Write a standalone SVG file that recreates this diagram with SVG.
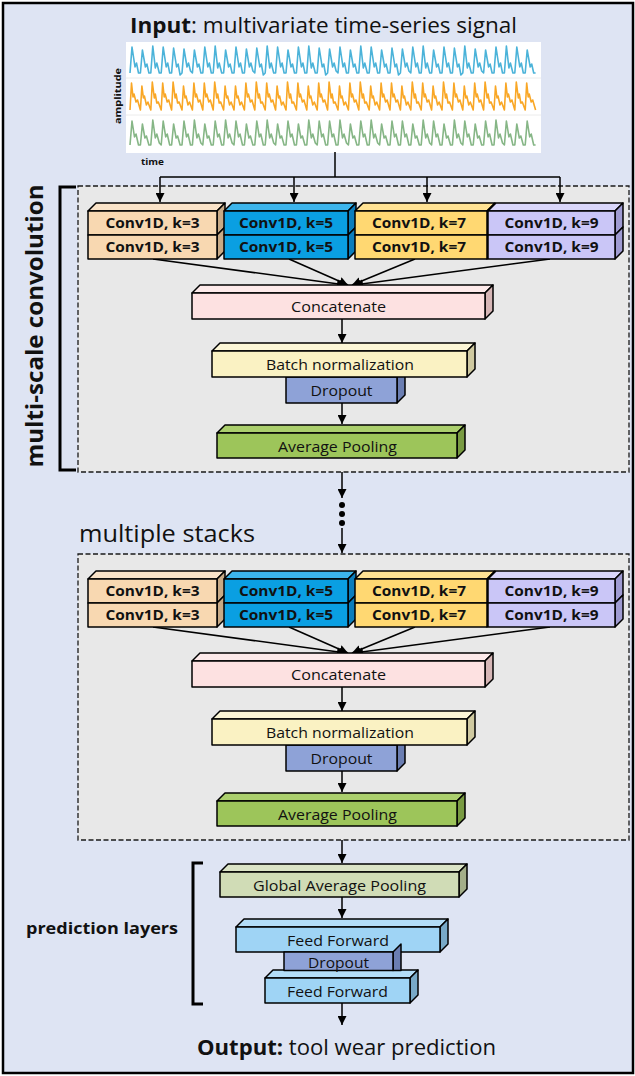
<svg xmlns="http://www.w3.org/2000/svg" width="635" height="1076" viewBox="0 0 635 1076">
  <defs>
    <marker id="arrow" viewBox="0 0 10 10" refX="10" refY="5" markerWidth="9" markerHeight="9" markerUnits="userSpaceOnUse" orient="auto">
      <path d="M0,0 L10,5 L0,10 z" fill="#000"/>
    </marker>
    <style>
      .edge { stroke:#000; stroke-width:1.5; fill:none; marker-end:url(#arrow); }
      .line { stroke:#000; stroke-width:1.5; fill:none; }
      .bracket { stroke:#000; stroke-width:3; fill:none; }
      .dash { fill:#e8e8e8; stroke:#1a1a1a; stroke-width:1.3; stroke-dasharray:5 2.5; }
      .box { stroke:#000; stroke-width:1.5; stroke-linejoin:round; }
      .t { font-family:"Open Sans","Liberation Sans",sans-serif; fill:#111; text-anchor:middle; }
      .cv { font-size:14px; font-weight:bold; }
      .lb { font-size:14px; }
      .wave { fill:none; stroke-width:1.6; stroke-linejoin:round; }
      .k3f { fill:#f8d8b1; } .k3t { fill:#fae3c8; } .k3s { fill:#c8aa86; }
      .k5f { fill:#0a9fe2; } .k5t { fill:#3cb5ec; } .k5s { fill:#0a7dbd; }
      .k7f { fill:#ffd872; } .k7t { fill:#ffe293; } .k7s { fill:#d6b256; }
      .k9f { fill:#cac6f7; } .k9t { fill:#d9d6fa; } .k9s { fill:#9f9bd2; }
      .ccf { fill:#fde1e1; } .cct { fill:#fdeaea; } .ccs { fill:#d6b6b6; }
      .bnf { fill:#faf2c3; } .bnt { fill:#fcf6d6; } .bns { fill:#cfc9a0; }
      .dof { fill:#8ea2d7; } .dos { fill:#6b7eb2; }
      .apf { fill:#9dc55a; } .apt { fill:#abcf6d; } .aps { fill:#799b42; }
      .gpf { fill:#d0dcb6; } .gpt { fill:#dbe4c6; } .gps { fill:#a3ae89; }
      .fff { fill:#9fd4f5; } .fft { fill:#b3ddf7; } .ffs { fill:#78a9c7; }
    </style>
  </defs>

  <!-- page background and frame -->
  <rect x="3" y="3" width="630" height="1070" fill="#dee4f3" stroke="#000" stroke-width="2.5"/>

  <!-- input signal -->
  <g id="input">
    <text class="t" x="130" y="33" font-size="21" textLength="387" lengthAdjust="spacingAndGlyphs" style="text-anchor:start"><tspan font-weight="bold">Input</tspan>: multivariate time-series signal</text>
    <rect x="126" y="42" width="415" height="111" fill="#fff"/>
    <line x1="126" y1="78" x2="541" y2="78" stroke="#ececec" stroke-width="1"/>
    <line x1="126" y1="115" x2="541" y2="115" stroke="#ececec" stroke-width="1"/>
    <path class="wave" stroke="#4bb3d9" d="M130,73 l2,-26 l3,20 l1.5,-4 l2,10 l1.9,0 l2,-23 l3,17 l1.5,-3 l2,9 l1.9,0 l2,-27 l2.5,22 l1.5,-5 l2.5,10 l1.9,0 l2,-26 l3,20 l1.5,-4 l2,10 l1.9,0 l2,-25 l3,19 l1.5,-3 l2,11 l1.9,-2 l2,-24 l3,18 l1.5,-4 l2,8 l1.9,2 l2,-23 l3,17 l1.5,-3 l2,9 l1.9,0 l2,-26 l3,20 l1.5,-4 l2,10 l1.9,0 l2,-27 l2.5,22 l1.5,-5 l2.5,10 l1.9,0 l2,-23 l3,17 l1.5,-3 l2,9 l1.9,0 l2,-26 l3,20 l1.5,-4 l2,10 l1.9,0 l2,-24 l3,18 l1.5,-4 l2,8 l1.9,2 l2,-25 l3,19 l1.5,-3 l2,11 l1.9,-2 l2,-27 l2.5,22 l1.5,-5 l2.5,10 l1.9,0 l2,-26 l3,20 l1.5,-4 l2,10 l1.9,0 l2,-23 l3,17 l1.5,-3 l2,9 l1.9,0 l2,-26 l3,20 l1.5,-4 l2,10 l1.9,0 l2,-27 l2.5,22 l1.5,-5 l2.5,10 l1.9,0 l2,-25 l3,19 l1.5,-3 l2,11 l1.9,-2 l2,-24 l3,18 l1.5,-4 l2,8 l1.9,2 l2,-26 l3,20 l1.5,-4 l2,10 l1.9,0 l2,-23 l3,17 l1.5,-3 l2,9 l1.9,0 l2,-27 l2.5,22 l1.5,-5 l2.5,10 l1.9,0 l2,-26 l3,20 l1.5,-4 l2,10 l1.9,0 l2,-23 l3,17 l1.5,-3 l2,9 l1.9,0 l2,-25 l3,19 l1.5,-3 l2,11 l1.9,-2 l2,-24 l3,18 l1.5,-4 l2,8 l1.9,2 l2,-26 l3,20 l1.5,-4 l2,10 l1.9,0 l2,-27 l2.5,22 l1.5,-5 l2.5,10 l1.9,0 l2,-23 l3,17 l1.5,-3 l2,9 l1.9,0 l2,-26 l3,20 l1.5,-4 l2,10 l1.9,0 l2,-25 l3,19 l1.5,-3 l2,11 l1.9,-2 l2,-27 l2.5,22 l1.5,-5 l2.5,10 l1.9,0 l2,-24 l3,18 l1.5,-4 l2,8 l1.9,2 l2,-23 l3,17 l1.5,-3 l2,9 l1.9,0 l2,-26 l3,20 l1.5,-4 l2,10 l1.9,0 l2,-27 l2.5,22 l1.5,-5 l2.5,10 l1.9,0 l2,-26 l3,20 l1.5,-4 l2,10 l1.9,0 l2,-23 l3,17 l1.5,-3 l2,9 l1.9,0"/>
    <path class="wave" stroke="#f9a726" d="M130,110 l1.5,-27 l1.5,14 l1,-3 l2,8 l1.5,-2 l2.9,10 l1.5,-24 l1.5,12 l1,-2 l2,9 l1.5,-3 l2.9,8 l1.5,-28 l2,16 l1,-4 l1.5,9 l1.5,-1 l2.9,8 l1.5,-27 l1.5,14 l1,-3 l2,8 l1.5,-2 l2.9,10 l1.5,-28 l2,16 l1,-4 l1.5,9 l1.5,-1 l2.9,8 l1.5,-24 l1.5,12 l1,-2 l2,9 l1.5,-3 l2.9,8 l1.5,-27 l1.5,14 l1,-3 l2,8 l1.5,-2 l2.9,10 l1.5,-27 l1.5,14 l1,-3 l2,8 l1.5,-2 l2.9,10 l1.5,-28 l2,16 l1,-4 l1.5,9 l1.5,-1 l2.9,8 l1.5,-24 l1.5,12 l1,-2 l2,9 l1.5,-3 l2.9,8 l1.5,-24 l1.5,12 l1,-2 l2,9 l1.5,-3 l2.9,8 l1.5,-27 l1.5,14 l1,-3 l2,8 l1.5,-2 l2.9,10 l1.5,-28 l2,16 l1,-4 l1.5,9 l1.5,-1 l2.9,8 l1.5,-27 l1.5,14 l1,-3 l2,8 l1.5,-2 l2.9,10 l1.5,-24 l1.5,12 l1,-2 l2,9 l1.5,-3 l2.9,8 l1.5,-28 l2,16 l1,-4 l1.5,9 l1.5,-1 l2.9,8 l1.5,-27 l1.5,14 l1,-3 l2,8 l1.5,-2 l2.9,10 l1.5,-24 l1.5,12 l1,-2 l2,9 l1.5,-3 l2.9,8 l1.5,-27 l1.5,14 l1,-3 l2,8 l1.5,-2 l2.9,10 l1.5,-28 l2,16 l1,-4 l1.5,9 l1.5,-1 l2.9,8 l1.5,-24 l1.5,12 l1,-2 l2,9 l1.5,-3 l2.9,8 l1.5,-27 l1.5,14 l1,-3 l2,8 l1.5,-2 l2.9,10 l1.5,-28 l2,16 l1,-4 l1.5,9 l1.5,-1 l2.9,8 l1.5,-24 l1.5,12 l1,-2 l2,9 l1.5,-3 l2.9,8 l1.5,-27 l1.5,14 l1,-3 l2,8 l1.5,-2 l2.9,10 l1.5,-27 l1.5,14 l1,-3 l2,8 l1.5,-2 l2.9,10 l1.5,-24 l1.5,12 l1,-2 l2,9 l1.5,-3 l2.9,8 l1.5,-28 l2,16 l1,-4 l1.5,9 l1.5,-1 l2.9,8 l1.5,-27 l1.5,14 l1,-3 l2,8 l1.5,-2 l2.9,10 l1.5,-24 l1.5,12 l1,-2 l2,9 l1.5,-3 l2.9,8 l1.5,-28 l2,16 l1,-4 l1.5,9 l1.5,-1 l2.9,8 l1.5,-27 l1.5,14 l1,-3 l2,8 l1.5,-2 l2.9,10 l1.5,-24 l1.5,12 l1,-2 l2,9 l1.5,-3 l2.9,8 l1.5,-27 l1.5,14 l1,-3 l2,8 l1.5,-2 l2.9,10 l1.5,-28 l2,16 l1,-4 l1.5,9 l1.5,-1 l2.9,8 l1.5,-24 l1.5,12 l1,-2 l2,9 l1.5,-3 l2.9,8 l1.5,-27 l1.5,14 l1,-3 l2,8 l1.5,-2 l2.9,10 l1.5,-28 l2,16 l1,-4 l1.5,9 l1.5,-1 l2.9,8 l1.5,-27 l1.5,14 l1,-3 l2,8 l1.5,-2 l2.9,10"/>
    <path class="wave" stroke="#86b686" d="M130,145 l2,-24 l2.5,16 l1.5,-3 l2.5,11 l1.9,0 l2,-21 l2.5,14 l1.5,-2 l2.5,9 l1.9,0 l2,-25 l2.5,18 l1.5,-4 l2.5,9 l1.9,2 l2,-24 l2.5,16 l1.5,-3 l2.5,11 l1.9,0 l2,-21 l2.5,14 l1.5,-2 l2.5,9 l1.9,0 l2,-24 l2.5,16 l1.5,-3 l2.5,11 l1.9,0 l2,-25 l2.5,18 l1.5,-4 l2.5,9 l1.9,2 l2,-21 l2.5,14 l1.5,-2 l2.5,9 l1.9,0 l2,-24 l2.5,16 l1.5,-3 l2.5,11 l1.9,0 l2,-25 l2.5,18 l1.5,-4 l2.5,9 l1.9,2 l2,-24 l2.5,16 l1.5,-3 l2.5,11 l1.9,0 l2,-21 l2.5,14 l1.5,-2 l2.5,9 l1.9,0 l2,-24 l2.5,16 l1.5,-3 l2.5,11 l1.9,0 l2,-25 l2.5,18 l1.5,-4 l2.5,9 l1.9,2 l2,-21 l2.5,14 l1.5,-2 l2.5,9 l1.9,0 l2,-24 l2.5,16 l1.5,-3 l2.5,11 l1.9,0 l2,-21 l2.5,14 l1.5,-2 l2.5,9 l1.9,0 l2,-25 l2.5,18 l1.5,-4 l2.5,9 l1.9,2 l2,-24 l2.5,16 l1.5,-3 l2.5,11 l1.9,0 l2,-24 l2.5,16 l1.5,-3 l2.5,11 l1.9,0 l2,-25 l2.5,18 l1.5,-4 l2.5,9 l1.9,2 l2,-21 l2.5,14 l1.5,-2 l2.5,9 l1.9,0 l2,-24 l2.5,16 l1.5,-3 l2.5,11 l1.9,0 l2,-25 l2.5,18 l1.5,-4 l2.5,9 l1.9,2 l2,-21 l2.5,14 l1.5,-2 l2.5,9 l1.9,0 l2,-24 l2.5,16 l1.5,-3 l2.5,11 l1.9,0 l2,-24 l2.5,16 l1.5,-3 l2.5,11 l1.9,0 l2,-21 l2.5,14 l1.5,-2 l2.5,9 l1.9,0 l2,-25 l2.5,18 l1.5,-4 l2.5,9 l1.9,2 l2,-24 l2.5,16 l1.5,-3 l2.5,11 l1.9,0 l2,-21 l2.5,14 l1.5,-2 l2.5,9 l1.9,0 l2,-25 l2.5,18 l1.5,-4 l2.5,9 l1.9,2 l2,-24 l2.5,16 l1.5,-3 l2.5,11 l1.9,0 l2,-21 l2.5,14 l1.5,-2 l2.5,9 l1.9,0 l2,-24 l2.5,16 l1.5,-3 l2.5,11 l1.9,0 l2,-25 l2.5,18 l1.5,-4 l2.5,9 l1.9,2 l2,-24 l2.5,16 l1.5,-3 l2.5,11 l1.9,0 l2,-21 l2.5,14 l1.5,-2 l2.5,9 l1.9,0 l2,-24 l2.5,16 l1.5,-3 l2.5,11 l1.9,0"/>
    <text class="t" transform="translate(121,96) rotate(-90)" font-size="8.5" font-weight="bold" textLength="56" lengthAdjust="spacingAndGlyphs">amplitude</text>
    <text class="t" x="141" y="165" font-size="9" font-weight="bold" textLength="23" lengthAdjust="spacingAndGlyphs" style="text-anchor:start">time</text>
  </g>

  <!-- stack containers and brackets -->
  <g id="stack1-frame">
    <rect class="dash" x="78" y="186" width="551" height="286"/>
    <path class="bracket" d="M76,187 H60 V470 H76"/>
    <text class="t" transform="translate(43,326) rotate(-90)" font-size="23" font-weight="bold" textLength="283" lengthAdjust="spacingAndGlyphs">multi-scale convolution</text>
  </g>
  <g id="stack2-frame">
    <rect class="dash" x="78" y="554" width="551" height="286"/>
    <text class="t" x="79" y="542" font-size="24" textLength="176" lengthAdjust="spacingAndGlyphs" style="text-anchor:start">multiple stacks</text>
  </g>

  <!-- connectors -->
  <g id="connectors">
    <path class="line" d="M335,152 V177 M160,177 H560"/>
    <path class="edge" d="M160,177 V202"/>
    <path class="edge" d="M294,177 V202"/>
    <path class="edge" d="M427,177 V202"/>
    <path class="edge" d="M560,177 V202"/>
    <g id="connectors-s1">
      <path class="edge" d="M153,259 L346,285"/>
      <path class="edge" d="M289,259 L348,285"/>
      <path class="edge" d="M415,259 L352,285"/>
      <path class="edge" d="M550,259 L354,285"/>
      <path class="edge" d="M342,319 V343"/>
      <path class="edge" d="M342,403 V424"/>
    </g>
    <g id="connectors-s2" transform="translate(0,368)">
      <path class="edge" d="M153,259 L346,285"/>
      <path class="edge" d="M289,259 L348,285"/>
      <path class="edge" d="M415,259 L352,285"/>
      <path class="edge" d="M550,259 L354,285"/>
      <path class="edge" d="M342,319 V343"/>
      <path class="edge" d="M342,403 V424"/>
    </g>
    <path class="edge" d="M342,472 V498"/>
    <circle cx="342" cy="505" r="3" fill="#000"/>
    <circle cx="342" cy="514" r="3" fill="#000"/>
    <circle cx="342" cy="523" r="3" fill="#000"/>
    <path class="edge" d="M342,528 V553"/>
    <path class="edge" d="M342,840 V863"/>
    <path class="edge" d="M342,897 V918"/>
    <path class="edge" d="M342,1003 V1025"/>
  </g>

  <!-- first multi-scale stack -->
  <g id="s1">
    <g id="s1-k3">
      <polygon class="box k3t" points="88,211 96,203 225,203 217,211"/>
      <polygon class="box k3s" points="217,211 225,203 225,227 217,235"/>
      <polygon class="box k3s" points="217,235 225,227 225,251 217,259"/>
      <rect class="box k3f" x="88" y="211" width="129" height="24"/>
      <rect class="box k3f" x="88" y="235" width="129" height="24"/>
      <text class="t cv" x="152.5" y="228" textLength="94" lengthAdjust="spacingAndGlyphs">Conv1D, k=3</text>
      <text class="t cv" x="152.5" y="252" textLength="94" lengthAdjust="spacingAndGlyphs">Conv1D, k=3</text>
    </g>
    <g id="s1-k5">
      <polygon class="box k5t" points="224,211 232,203 356,203 348,211"/>
      <polygon class="box k5s" points="348,211 356,203 356,227 348,235"/>
      <polygon class="box k5s" points="348,235 356,227 356,251 348,259"/>
      <rect class="box k5f" x="224" y="211" width="124" height="24"/>
      <rect class="box k5f" x="224" y="235" width="124" height="24"/>
      <text class="t cv" x="286" y="228" textLength="94" lengthAdjust="spacingAndGlyphs">Conv1D, k=5</text>
      <text class="t cv" x="286" y="252" textLength="94" lengthAdjust="spacingAndGlyphs">Conv1D, k=5</text>
    </g>
    <g id="s1-k7">
      <polygon class="box k7t" points="355,211 363,203 495,203 487,211"/>
      <polygon class="box k7s" points="487,211 495,203 495,227 487,235"/>
      <polygon class="box k7s" points="487,235 495,227 495,251 487,259"/>
      <rect class="box k7f" x="355" y="211" width="132" height="24"/>
      <rect class="box k7f" x="355" y="235" width="132" height="24"/>
      <text class="t cv" x="419" y="228" textLength="94" lengthAdjust="spacingAndGlyphs">Conv1D, k=7</text>
      <text class="t cv" x="419" y="252" textLength="94" lengthAdjust="spacingAndGlyphs">Conv1D, k=7</text>
    </g>
    <g id="s1-k9">
      <polygon class="box k9t" points="488,211 496,203 623,203 615,211"/>
      <polygon class="box k9s" points="615,211 623,203 623,227 615,235"/>
      <polygon class="box k9s" points="615,235 623,227 623,251 615,259"/>
      <rect class="box k9f" x="488" y="211" width="127" height="24"/>
      <rect class="box k9f" x="488" y="235" width="127" height="24"/>
      <text class="t cv" x="551.5" y="228" textLength="94" lengthAdjust="spacingAndGlyphs">Conv1D, k=9</text>
      <text class="t cv" x="551.5" y="252" textLength="94" lengthAdjust="spacingAndGlyphs">Conv1D, k=9</text>
    </g>
    <g id="s1-concat">
      <polygon class="box cct" points="192,293 200,285 493,285 485,293"/>
      <polygon class="box ccs" points="485,293 493,285 493,311 485,319"/>
      <rect class="box ccf" x="192" y="293" width="293" height="26"/>
      <text class="t lb" x="338.5" y="312" textLength="95" lengthAdjust="spacingAndGlyphs">Concatenate</text>
    </g>
    <g id="s1-dropout">
      <polygon class="box dos" points="397,377 405,369 405,395 397,403"/>
      <rect class="box dof" x="286" y="377" width="111" height="26"/>
      <text class="t lb" x="341.5" y="396" textLength="62" lengthAdjust="spacingAndGlyphs">Dropout</text>
    </g>
    <g id="s1-batchnorm">
      <polygon class="box bnt" points="212,351 220,343 475,343 467,351"/>
      <polygon class="box bns" points="467,351 475,343 475,369 467,377"/>
      <rect class="box bnf" x="212" y="351" width="255" height="26"/>
      <text class="t lb" x="340" y="370" textLength="148" lengthAdjust="spacingAndGlyphs">Batch normalization</text>
    </g>
    <g id="s1-avgpool">
      <polygon class="box apt" points="217,433 225,425 465,425 457,433"/>
      <polygon class="box aps" points="457,433 465,425 465,450 457,458"/>
      <rect class="box apf" x="217" y="433" width="240" height="25"/>
      <text class="t lb" x="337.5" y="452" textLength="119" lengthAdjust="spacingAndGlyphs">Average Pooling</text>
    </g>
  </g>

  <!-- second multi-scale stack, same layout lower down -->
  <g id="s2" transform="translate(0,368)">
    <g id="s2-k3">
      <polygon class="box k3t" points="88,211 96,203 225,203 217,211"/>
      <polygon class="box k3s" points="217,211 225,203 225,227 217,235"/>
      <polygon class="box k3s" points="217,235 225,227 225,251 217,259"/>
      <rect class="box k3f" x="88" y="211" width="129" height="24"/>
      <rect class="box k3f" x="88" y="235" width="129" height="24"/>
      <text class="t cv" x="152.5" y="228" textLength="94" lengthAdjust="spacingAndGlyphs">Conv1D, k=3</text>
      <text class="t cv" x="152.5" y="252" textLength="94" lengthAdjust="spacingAndGlyphs">Conv1D, k=3</text>
    </g>
    <g id="s2-k5">
      <polygon class="box k5t" points="224,211 232,203 356,203 348,211"/>
      <polygon class="box k5s" points="348,211 356,203 356,227 348,235"/>
      <polygon class="box k5s" points="348,235 356,227 356,251 348,259"/>
      <rect class="box k5f" x="224" y="211" width="124" height="24"/>
      <rect class="box k5f" x="224" y="235" width="124" height="24"/>
      <text class="t cv" x="286" y="228" textLength="94" lengthAdjust="spacingAndGlyphs">Conv1D, k=5</text>
      <text class="t cv" x="286" y="252" textLength="94" lengthAdjust="spacingAndGlyphs">Conv1D, k=5</text>
    </g>
    <g id="s2-k7">
      <polygon class="box k7t" points="355,211 363,203 495,203 487,211"/>
      <polygon class="box k7s" points="487,211 495,203 495,227 487,235"/>
      <polygon class="box k7s" points="487,235 495,227 495,251 487,259"/>
      <rect class="box k7f" x="355" y="211" width="132" height="24"/>
      <rect class="box k7f" x="355" y="235" width="132" height="24"/>
      <text class="t cv" x="419" y="228" textLength="94" lengthAdjust="spacingAndGlyphs">Conv1D, k=7</text>
      <text class="t cv" x="419" y="252" textLength="94" lengthAdjust="spacingAndGlyphs">Conv1D, k=7</text>
    </g>
    <g id="s2-k9">
      <polygon class="box k9t" points="488,211 496,203 623,203 615,211"/>
      <polygon class="box k9s" points="615,211 623,203 623,227 615,235"/>
      <polygon class="box k9s" points="615,235 623,227 623,251 615,259"/>
      <rect class="box k9f" x="488" y="211" width="127" height="24"/>
      <rect class="box k9f" x="488" y="235" width="127" height="24"/>
      <text class="t cv" x="551.5" y="228" textLength="94" lengthAdjust="spacingAndGlyphs">Conv1D, k=9</text>
      <text class="t cv" x="551.5" y="252" textLength="94" lengthAdjust="spacingAndGlyphs">Conv1D, k=9</text>
    </g>
    <g id="s2-concat">
      <polygon class="box cct" points="192,293 200,285 493,285 485,293"/>
      <polygon class="box ccs" points="485,293 493,285 493,311 485,319"/>
      <rect class="box ccf" x="192" y="293" width="293" height="26"/>
      <text class="t lb" x="338.5" y="312" textLength="95" lengthAdjust="spacingAndGlyphs">Concatenate</text>
    </g>
    <g id="s2-dropout">
      <polygon class="box dos" points="397,377 405,369 405,395 397,403"/>
      <rect class="box dof" x="286" y="377" width="111" height="26"/>
      <text class="t lb" x="341.5" y="396" textLength="62" lengthAdjust="spacingAndGlyphs">Dropout</text>
    </g>
    <g id="s2-batchnorm">
      <polygon class="box bnt" points="212,351 220,343 475,343 467,351"/>
      <polygon class="box bns" points="467,351 475,343 475,369 467,377"/>
      <rect class="box bnf" x="212" y="351" width="255" height="26"/>
      <text class="t lb" x="340" y="370" textLength="148" lengthAdjust="spacingAndGlyphs">Batch normalization</text>
    </g>
    <g id="s2-avgpool">
      <polygon class="box apt" points="217,433 225,425 465,425 457,433"/>
      <polygon class="box aps" points="457,433 465,425 465,450 457,458"/>
      <rect class="box apf" x="217" y="433" width="240" height="25"/>
      <text class="t lb" x="337.5" y="452" textLength="119" lengthAdjust="spacingAndGlyphs">Average Pooling</text>
    </g>
  </g>

  <!-- prediction head -->
  <g id="prediction">
    <path class="bracket" d="M203,863 H193 V1004 H203"/>
    <text class="t" x="26" y="934" font-size="16" font-weight="bold" textLength="152" lengthAdjust="spacingAndGlyphs" style="text-anchor:start">prediction layers</text>
    <g id="gap">
      <polygon class="box gpt" points="220,872 228,864 467,864 459,872"/>
      <polygon class="box gps" points="459,872 467,864 467,889 459,897"/>
      <rect class="box gpf" x="220" y="872" width="239" height="25"/>
      <text class="t lb" x="339.5" y="891" textLength="173" lengthAdjust="spacingAndGlyphs">Global Average Pooling</text>
    </g>
    <g id="ff1">
      <polygon class="box fft" points="236,927 244,919 448,919 440,927"/>
      <polygon class="box ffs" points="440,927 448,919 448,944 440,952"/>
      <rect class="box fff" x="236" y="927" width="204" height="25"/>
      <text class="t lb" x="338" y="946" textLength="102" lengthAdjust="spacingAndGlyphs">Feed Forward</text>
    </g>
    <g id="ff2">
      <polygon class="box fft" points="265,978 273,970 418,970 410,978"/>
      <polygon class="box ffs" points="410,978 418,970 418,995 410,1003"/>
      <rect class="box fff" x="265" y="978" width="145" height="25"/>
      <text class="t lb" x="337.5" y="997" textLength="101" lengthAdjust="spacingAndGlyphs">Feed Forward</text>
    </g>
    <!-- dropout sits between the two dense layers; its lower part is hidden behind ff2 -->
    <g id="p-dropout">
      <polygon class="box dos" points="393,952 401,944 401,970.5 393,970.5"/>
      <rect class="box dof" x="284" y="952" width="109" height="18.5"/>
      <text class="t lb" x="338.5" y="968" textLength="61" lengthAdjust="spacingAndGlyphs">Dropout</text>
    </g>
  </g>

  <!-- output -->
  <g id="output">
    <text class="t" x="197" y="1055" font-size="21" textLength="299" lengthAdjust="spacingAndGlyphs" style="text-anchor:start"><tspan font-weight="bold">Output:</tspan> tool wear prediction</text>
  </g>
</svg>
